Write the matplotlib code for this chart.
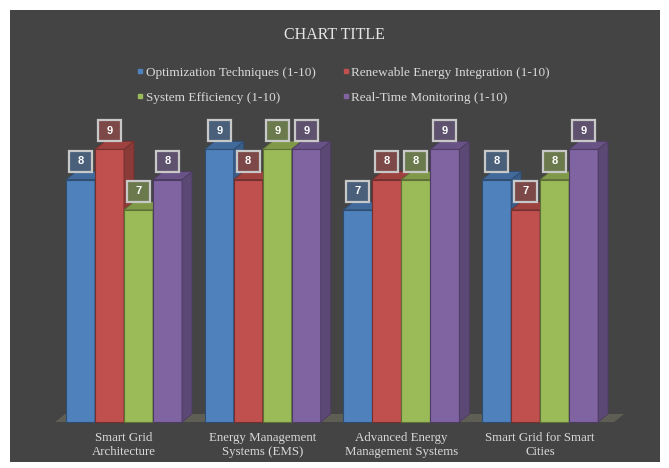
import matplotlib
matplotlib.use("Agg")
import matplotlib.pyplot as plt
from matplotlib.patches import Polygon, Rectangle
from matplotlib.lines import Line2D
import matplotlib.colors as mcolors
import numpy as np

categories = ["Smart Grid\nArchitecture", "Energy Management\nSystems (EMS)",
              "Advanced Energy\nManagement Systems", "Smart Grid for Smart\nCities"]
series = ["Optimization Techniques (1-10)", "Renewable Energy Integration (1-10)",
          "System Efficiency (1-10)", "Real-Time Monitoring (1-10)"]
optimization = [8, 9, 7, 8]
renewable = [9, 8, 8, 7]
efficiency = [7, 9, 8, 8]
monitoring = [8, 9, 9, 9]
values = [optimization, renewable, efficiency, monitoring]
colors = ["#4f81bd", "#c0504d", "#9bbb59", "#8064a2"]

BG = "#444444"
TXT = "#d9d9d9"
W, H = 669, 468

def shade(c, f):
    r, g, b = mcolors.to_rgb(c)
    return (r * f, g * f, b * f)

def blend(c, bg, a):
    c1 = np.array(mcolors.to_rgb(c))
    c2 = np.array(mcolors.to_rgb(bg))
    return tuple(c1 * a + c2 * (1 - a))

fig = plt.figure(figsize=(W / 100, H / 100), dpi=100, facecolor="white")
fig.patches.append(Rectangle((10 / W, 6 / H), 650 / W, 452 / H, transform=fig.transFigure,
                             facecolor=BG, edgecolor="none", zorder=-5))

# pixel mapping: x=0 at px 124, 1 unit = 138.7 px ; y=0 at px 422 from top, 1 unit = 30.3 px
ux, uy = 138.7, 30.3
x0px, y0px = 124, H - 422
ax_l, ax_r, ax_b, ax_t = 20, 650, 20, H - 105
ax = fig.add_axes([ax_l / W, ax_b / H, (ax_r - ax_l) / W, (ax_t - ax_b) / H])
ax.set_zorder(2)
ax.set_xlim((ax_l - x0px) / ux, (ax_r - x0px) / ux)
ax.set_ylim((ax_b - y0px) / uy, (ax_t - y0px) / uy)
ax.axis("off")

bw = 29 / ux
dx, dy = 10 / ux, 8 / uy
x = np.arange(len(categories))
offsets = (np.arange(len(series)) - 1.5) * bw

# floor
fl, fr = x[0] + offsets[0] - bw / 2 - 11 / ux, x[-1] + offsets[-1] + bw / 2 + 16 / ux
ax.add_patch(Polygon([(fl, 0), (fr, 0), (fr + dx, dy), (fl + dx, dy)], closed=True,
                     facecolor="#5f5e54", edgecolor="none", zorder=1))

z = 2
for gi in range(len(categories)):
    for si in range(len(series)):
        h = values[si][gi]
        xc = x[gi] + offsets[si]
        xl, xr = xc - bw / 2, xc + bw / 2
        col = colors[si]
        edge = shade(col, 0.6)
        ax.bar(xc, h, width=bw, color=col, edgecolor=edge, linewidth=0.8, zorder=z)
        ax.add_patch(Polygon([(xr, 0), (xr + dx, dy), (xr + dx, h + dy), (xr, h)], closed=True,
                             facecolor=shade(col, 0.72), edgecolor=edge, linewidth=0.6, zorder=z + 0.1))
        ax.add_patch(Polygon([(xl, h), (xl + dx, h + dy), (xr + dx, h + dy), (xr, h)], closed=True,
                             facecolor=shade(col, 0.82), edgecolor=edge, linewidth=0.6, zorder=z + 0.2))
        z += 1

# value labels
bxw, bxh = 23 / ux, 21 / uy
for gi in range(len(categories)):
    for si in range(len(series)):
        h = values[si][gi]
        xc = x[gi] + offsets[si]
        yc = h + 18.5 / uy
        ax.add_patch(Rectangle((xc - bxw / 2, yc - bxh / 2), bxw, bxh,
                               facecolor=blend(colors[si], BG, 0.45), edgecolor="#c8c8c8",
                               linewidth=1.6, zorder=100, clip_on=False))
        ax.text(xc, yc, str(h), ha="center", va="center", color="white", fontsize=8,
                fontweight="bold", family="Liberation Sans", zorder=101, clip_on=False)

# category labels
for gi, cat in enumerate(categories):
    ax.text(x[gi], -10 / uy, cat, ha="center", va="top", color=TXT, fontsize=9.3,
            family="Liberation Serif", linespacing=1.2)

fig.text(0.5, 1 - 35 / H, "CHART TITLE", ha="center", va="center", color="#e6e6e6",
         fontsize=11.5, family="Liberation Serif")

handles = [Line2D([], [], marker="s", linestyle="none", markersize=3.5, color=c) for c in colors]
order = [0, 2, 1, 3]
leg = fig.legend([handles[i] for i in order], [series[i] for i in order], ncol=2, loc="center",
                 bbox_to_anchor=(343 / W, 1 - 85 / H),
                 frameon=False, prop={"family": "Liberation Serif", "size": 9.5},
                 labelspacing=0.95, columnspacing=2.0, handletextpad=0.1, handlelength=0.6,
                 labelcolor=TXT)

fig.savefig("out.png", dpi=100, facecolor="white")
